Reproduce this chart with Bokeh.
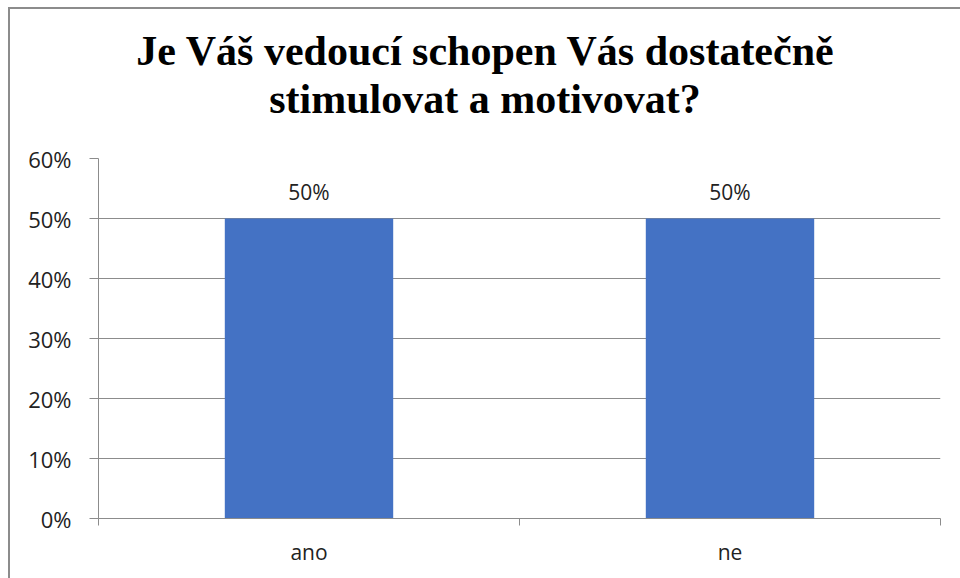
from bokeh.plotting import figure
from bokeh.models import FixedTicker, Div, Range1d, ColumnDataSource
from bokeh.layouts import column
from bokeh.embed import file_html
from bokeh.resources import INLINE
from bokeh.core.properties import value

title_lines = ["Je Váš vedoucí schopen Vás dostatečně", "stimulovat a motivovat?"]
categories = ["ano", "ne"]
values = [0.50, 0.50]
y_ticks = [0, 0.1, 0.2, 0.3, 0.4, 0.5, 0.6]
y_tick_labels = ["0%", "10%", "20%", "30%", "40%", "50%", "60%"]

GRAY = "#8c8c8c"
FONT = "Open Sans"

xs = [i + 0.5 for i in range(len(categories))]
src = ColumnDataSource(dict(x=xs, top=values, cat=categories,
                            lab=["%d%%" % round(v * 100) for v in values]))

title = Div(
    text="<br>".join(title_lines),
    width=950, height=119, margin=0,
    styles={"font-family": "'Liberation Serif', serif",
            "font-weight": "bold", "font-size": "42px", "line-height": "48px",
            "text-align": "center", "padding-top": "18px", "color": "#000000",
            "box-sizing": "border-box", "width": "950px"})

p = figure(width=950, height=450, x_range=Range1d(0, len(categories)),
           y_range=Range1d(0, 0.6), output_backend="svg", toolbar_location=None,
           min_border_left=88, min_border_right=20, min_border_top=30, min_border_bottom=60,
           margin=0)
p.outline_line_color = None
p.background_fill_color = "white"

p.vbar(x="x", top="top", width=0.4, source=src, color="#4472C4", line_color=None)
p.text(x="x", y="top", text="lab", source=src, text_align="center", text_baseline="bottom",
       y_offset=-13, text_font=value(FONT), text_font_size="21px", text_color="#222222")

p.xgrid.visible = False
p.ygrid.ticker = FixedTicker(ticks=y_ticks)
p.ygrid.grid_line_color = GRAY
p.ygrid.grid_line_width = 1

ya = p.yaxis[0]
ya.ticker = FixedTicker(ticks=y_ticks)
ya.major_label_overrides = {t: l for t, l in zip(y_ticks, y_tick_labels)}
ya.major_tick_out = 9
ya.major_tick_in = 0
ya.minor_tick_out = 0
ya.minor_tick_in = 0
ya.axis_line_color = GRAY
ya.major_tick_line_color = GRAY
ya.major_label_standoff = 18
ya.major_label_text_font = FONT
ya.major_label_text_font_size = "22px"
ya.major_label_text_color = "#222222"

xa = p.xaxis[0]
xa.ticker = FixedTicker(ticks=xs, minor_ticks=list(range(len(categories) + 1)))
xa.major_label_overrides = {x: c for x, c in zip(xs, categories)}
xa.major_tick_out = 0
xa.major_tick_in = 0
xa.minor_tick_out = 7
xa.minor_tick_in = 0
xa.minor_tick_line_color = GRAY
xa.axis_line_color = GRAY
xa.major_label_standoff = 12
xa.major_label_text_font = FONT
xa.major_label_text_font_size = "21px"
xa.major_label_text_color = "#222222"

layout = column(title, p, spacing=0, margin=(7, 0, 0, 8),
                styles={"border-left": "2px solid #8c8c8c", "border-top": "2px solid #8c8c8c"})

open("out.html", "w").write(file_html(layout, INLINE))
